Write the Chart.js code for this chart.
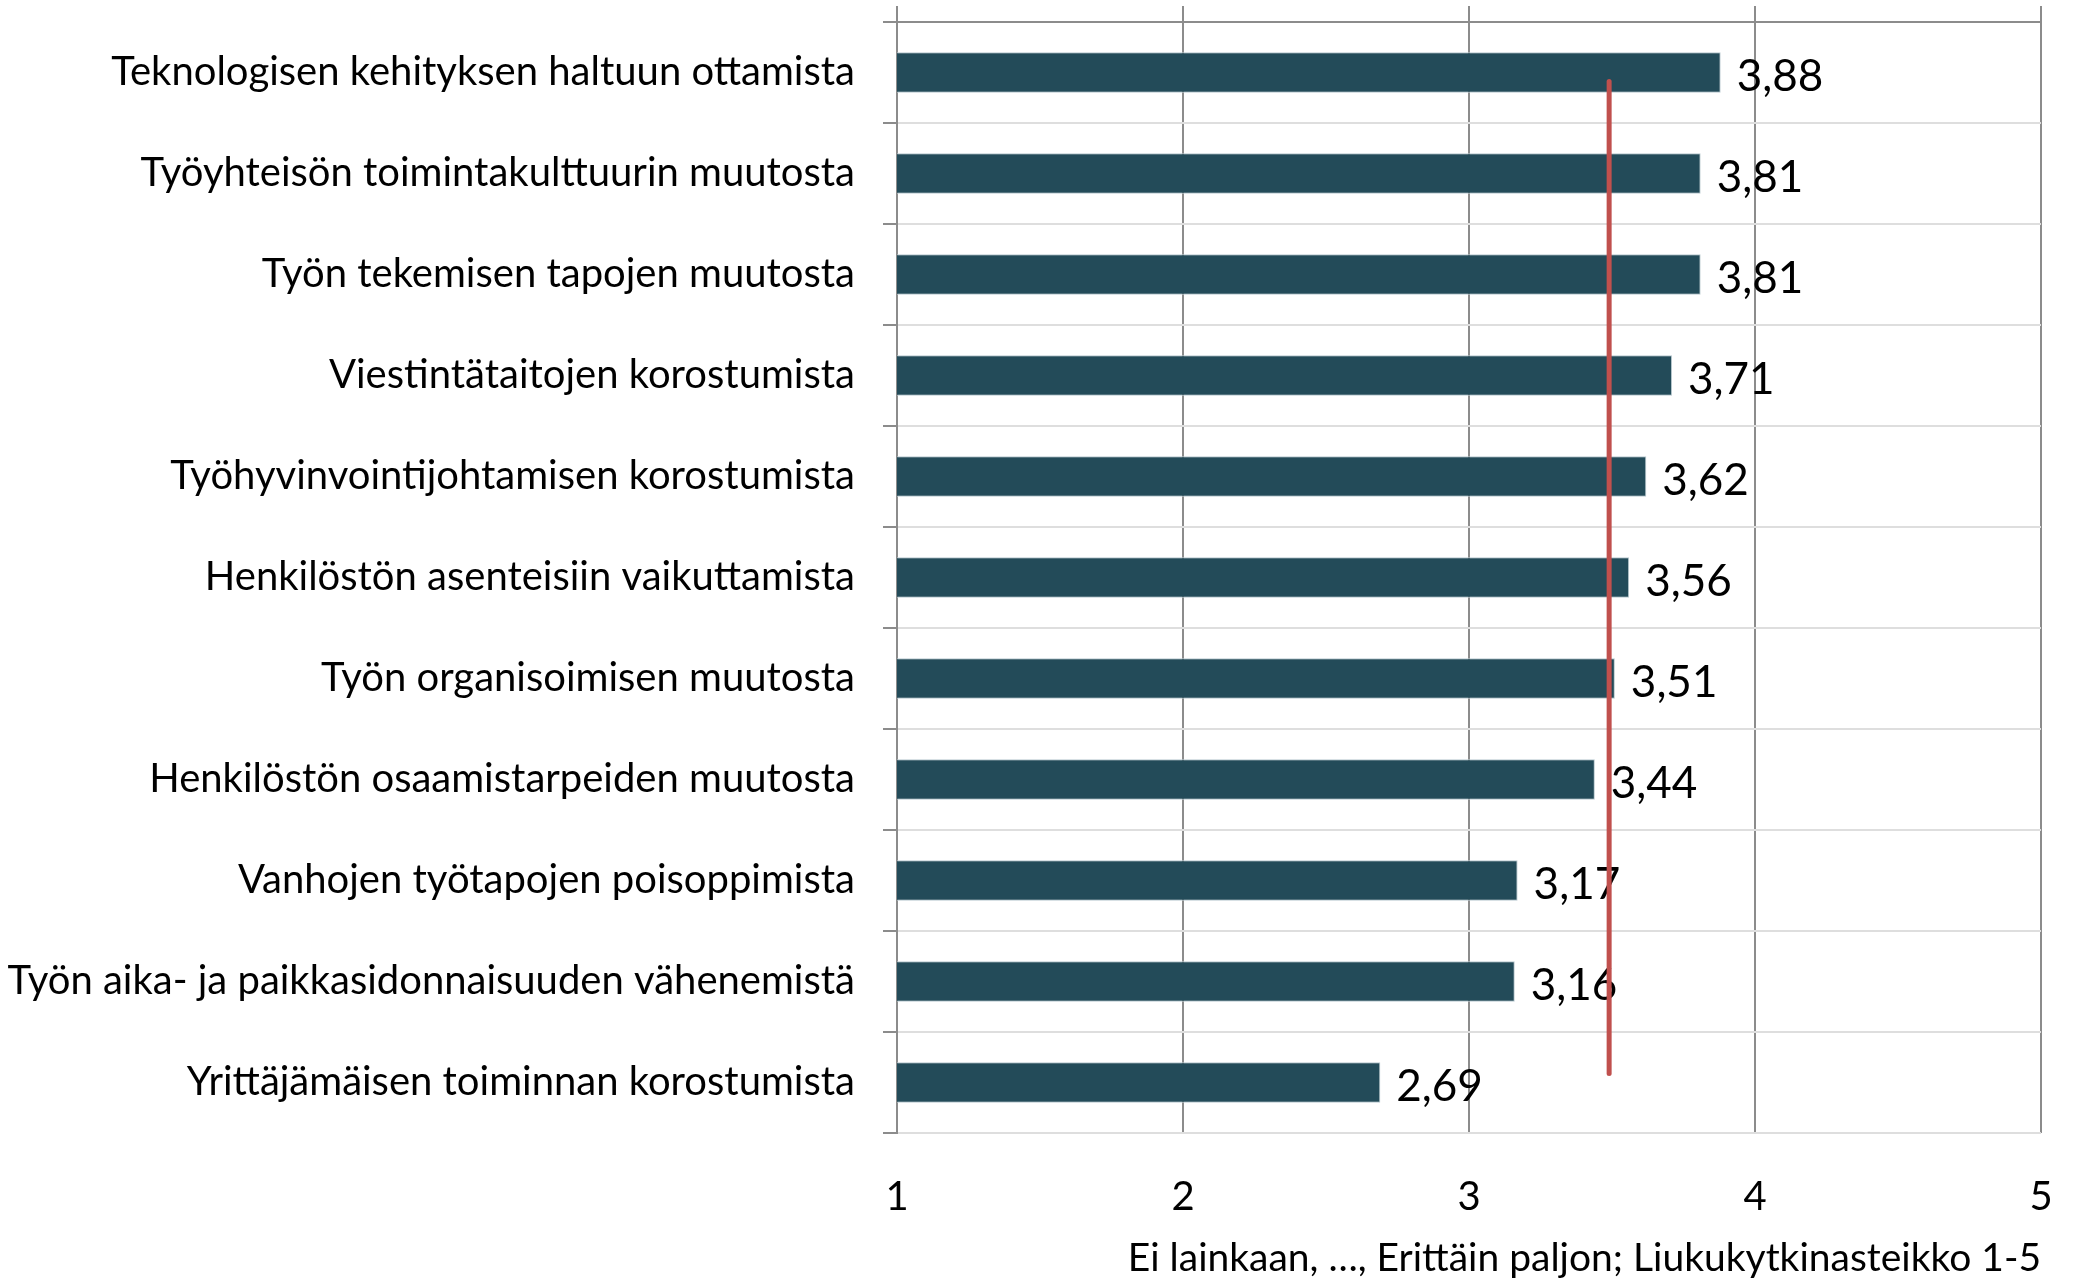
<!DOCTYPE html>
<html>
<head>
<meta charset="utf-8">
<script src="https://cdn.jsdelivr.net/npm/chart.js@4/dist/chart.umd.min.js"></script>
<style>
  html, body { margin: 0; padding: 0; background: #ffffff; }
  #wrap { width: 2078px; height: 1278px; position: relative; }
</style>
</head>
<body>
<div id="wrap"><canvas id="c" width="2078" height="1278"></canvas></div>
<script>
const categories = [
  "Teknologisen kehityksen haltuun ottamista",
  "Työyhteisön toimintakulttuurin muutosta",
  "Työn tekemisen tapojen muutosta",
  "Viestintätaitojen korostumista",
  "Työhyvinvointijohtamisen korostumista",
  "Henkilöstön asenteisiin vaikuttamista",
  "Työn organisoimisen muutosta",
  "Henkilöstön osaamistarpeiden muutosta",
  "Vanhojen työtapojen poisoppimista",
  "Työn aika- ja paikkasidonnaisuuden vähenemistä",
  "Yrittäjämäisen toiminnan korostumista"
];
const values = [3.88, 3.81, 3.81, 3.71, 3.62, 3.56, 3.51, 3.44, 3.17, 3.16, 2.69];
const averageLine = [{ x: 3.49, y: 0 }, { x: 3.49, y: 1 }];
const xTicks = [1, 2, 3, 4, 5];
const axisTitle = "Ei lainkaan, …, Erittäin paljon; Liukukytkinasteikko 1-5";

const FONT = "Lato, 'Open Sans', sans-serif";
const DARK = "#8c8c8c";
const LIGHT = "#dedede";

const valueLabels = {
  id: "valueLabels",
  afterDatasetDraw(chart, args) {
    if (args.index !== 0) return;
    const ctx = chart.ctx;
    const meta = chart.getDatasetMeta(0);
    ctx.save();
    ctx.font = "44px " + FONT;
    ctx.fillStyle = "#000000";
    ctx.textAlign = "left";
    ctx.textBaseline = "middle";
    meta.data.forEach((bar, i) => {
      const txt = values[i].toFixed(2).replace(".", ",");
      ctx.fillText(txt, bar.x + 16, bar.y + 4);
    });
    ctx.restore();
  }
};

new Chart(document.getElementById("c"), {
  type: "bar",
  data: {
    labels: categories,
    datasets: [
      {
        type: "bar",
        data: values,
        backgroundColor: "#234b59",
        borderColor: "#b9c9cf",
        borderWidth: 1,
        barPercentage: 0.4,
        categoryPercentage: 1.0,
        grouped: false,
        order: 1,
        xAxisID: "x",
        yAxisID: "y"
      },
      {
        type: "line",
        data: averageLine,
        indexAxis: "y",
        borderColor: "#c0504d",
        borderWidth: 5,
        borderCapStyle: "round",
        pointRadius: 0,
        fill: false,
        order: 0,
        xAxisID: "x",
        yAxisID: "y2"
      }
    ]
  },
  options: {
    indexAxis: "y",
    responsive: false,
    animation: false,
    devicePixelRatio: 1,
    layout: { padding: { top: 6, right: 37, bottom: 0, left: 0 } },
    plugins: {
      legend: { display: false },
      tooltip: { enabled: false },
      title: { display: false }
    },
    scales: {
      x: {
        type: "linear",
        position: "bottom",
        min: 1,
        max: 5,
        afterBuildTicks(scale) { scale.ticks = xTicks.map(v => ({ value: v })); },
        afterFit(scale) {
          scale.height = 145;
          scale.paddingLeft = 0;
          scale.paddingRight = 0;
        },
        grid: { color: DARK, lineWidth: 2, drawTicks: false },
        border: { display: false },
        ticks: {
          font: { family: FONT, size: 40 },
          color: "#000000",
          padding: 40
        },
        title: {
          display: true,
          text: axisTitle,
          align: "end",
          font: { family: FONT, size: 39, lineHeight: 1.0 },
          color: "#000000",
          padding: { top: 0, bottom: 0 }
        }
      },
      x2: {
        type: "linear",
        position: "top",
        min: 1,
        max: 5,
        afterBuildTicks(scale) { scale.ticks = xTicks.map(v => ({ value: v })); },
        afterFit(scale) {
          scale.height = 16;
          scale.paddingLeft = 0;
          scale.paddingRight = 0;
        },
        grid: { color: DARK, lineWidth: 2, drawOnChartArea: false, drawTicks: true, tickLength: 16 },
        border: { display: true, color: DARK, width: 2 },
        ticks: { display: false }
      },
      y: {
        type: "category",
        position: "left",
        afterFit(scale) {
          scale.width = 897;
          scale.paddingTop = 0;
          scale.paddingBottom = 0;
        },
        grid: {
          offset: true,
          color: (c) => (c.index === 0 ? DARK : LIGHT),
          lineWidth: 2,
          drawTicks: true,
          tickLength: 14,
          tickColor: DARK
        },
        border: { display: true, color: DARK, width: 2 },
        ticks: {
          font: { family: FONT, size: 40 },
          color: "#000000",
          padding: 28,
          autoSkip: false
        }
      },
      y2: {
        type: "linear",
        display: false,
        offset: false,
        grace: 0,
        min: -0.06,
        max: 1.06
      }
    }
  },
  plugins: [valueLabels]
});
</script>
</body>
</html>
